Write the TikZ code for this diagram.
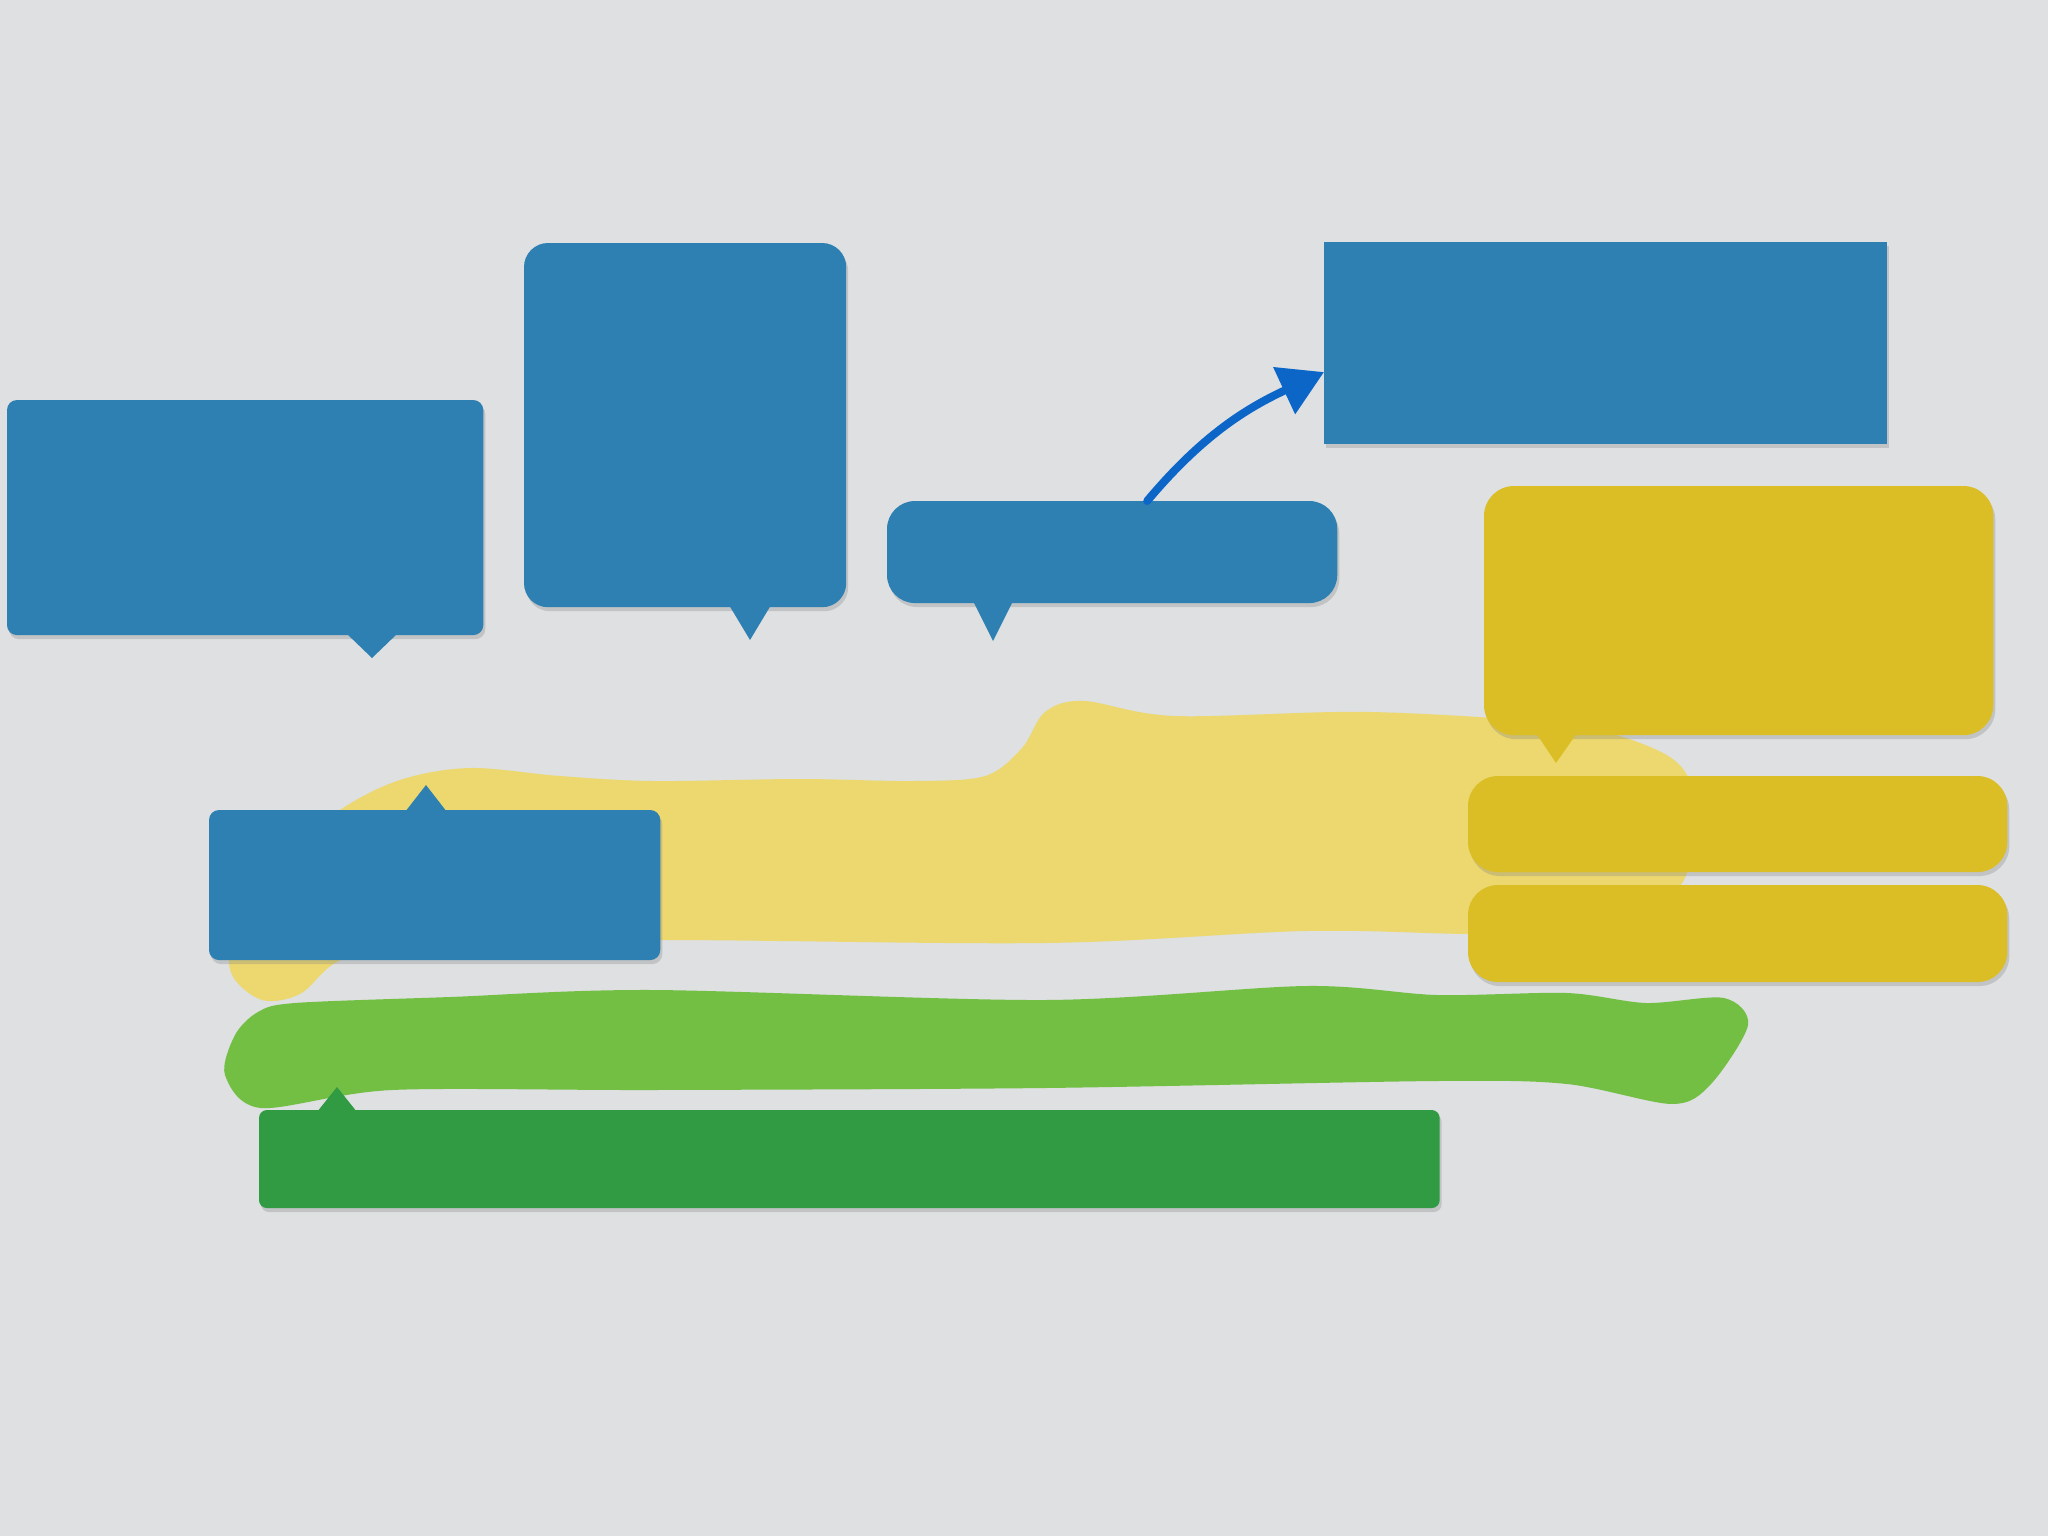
\documentclass[tikz,border=0pt]{standalone}
\usepackage{xcolor}
\usepackage{tikz}
\usetikzlibrary{arrows.meta, shadows}

\definecolor{paper}{RGB}{222,224,226}
\definecolor{feltblue}{RGB}{46,128,178}
\definecolor{crayonblue}{RGB}{12,102,200}
\definecolor{gold}{RGB}{219,190,38}
\definecolor{paleyellow}{RGB}{236,216,110}
\definecolor{leafgreen}{RGB}{114,191,68}
\definecolor{darkgreen}{RGB}{48,155,67}

\begin{document}
\begin{tikzpicture}[x=0.01cm, y=-0.01cm,
    card/.style={inner sep=0pt, outer sep=0pt, anchor=north west,
        drop shadow={opacity=0.3, shadow xshift=0.02cm, shadow yshift=-0.04cm}},
    bluecard/.style={card, fill=feltblue},
    goldcard/.style={card, fill=gold},
    greencard/.style={card, fill=darkgreen},
    crayon/.style={draw=crayonblue, line width=0.08cm, line cap=round,
        -{Triangle[length=0.44cm, width=0.5cm]}}]
    % background
    \fill[paper] (0,0) rectangle (2048,1536);
    % blobs
    \fill[paleyellow] plot[smooth cycle, tension=0.55] coordinates {
        (400,780) (470,768) (560,776) (653,781) (800,779) (914,781) (985,776)
        (1022,748) (1045,712) (1084,701) (1175,716) (1371,712) (1567,725)
        (1659,751) (1691,784) (1690,840) (1678,888) (1600,930) (1476,934)
        (1306,931) (1045,943) (653,940) (400,945) (337,962) (300,994)
        (262,1000) (232,975) (235,940) (280,860) (340,810)};
    \fill[leafgreen] plot[smooth cycle, tension=0.5] coordinates {
        (295,1003) (450,997) (653,990) (1045,1000) (1306,986) (1437,995)
        (1567,993) (1646,1003) (1724,998) (1748,1025) (1711,1084) (1672,1104)
        (1567,1084) (1437,1081) (1045,1088) (653,1090) (392,1090)
        (261,1108) (225,1075) (235,1035) (258,1012)};
    % blue cards
    \node[bluecard, minimum width=4.76cm, minimum height=2.35cm, rounded corners=0.1cm] (A) at (7,400) {};
    \node[bluecard, minimum width=3.22cm, minimum height=3.64cm, rounded corners=0.24cm] (B) at (524,243) {};
    \node[bluecard, minimum width=4.50cm, minimum height=1.02cm, rounded corners=0.28cm] (C) at (887,501) {};
    \node[bluecard, minimum width=5.63cm, minimum height=2.02cm] (D) at (1324,242) {};
    \node[bluecard, minimum width=4.51cm, minimum height=1.50cm, rounded corners=0.1cm] (H) at (209,810) {};
    \fill[feltblue] (346,633) -- (372,658) -- (398,633) -- cycle;
    \fill[feltblue] (729,605) -- (750,640) -- (771,605) -- cycle;
    \fill[feltblue] (973,601) -- (993,641) -- (1013,601) -- cycle;
    \fill[feltblue] (405,812) -- (426,785) -- (447,812) -- cycle;
    % gold cards
    \node[goldcard, minimum width=5.09cm, minimum height=2.49cm, rounded corners=0.3cm] (E) at (1484,486) {};
    \node[goldcard, minimum width=5.39cm, minimum height=0.96cm, rounded corners=0.3cm] (F) at (1468,776) {};
    \node[goldcard, minimum width=5.39cm, minimum height=0.97cm, rounded corners=0.3cm] (G) at (1468,885) {};
    \fill[gold] (1536,733) -- (1556,763) -- (1577,733) -- cycle;
    % green card
    \node[greencard, minimum width=11.80cm, minimum height=0.98cm, rounded corners=0.08cm] (I) at (259,1110) {};
    \fill[darkgreen] (317,1112) -- (337,1087) -- (357,1112) -- cycle;
    % arrow
    \draw[crayon] ([xshift=0.35cm]C.north) to[out=50, in=205] ([yshift=-0.29cm]D.west);
\end{tikzpicture}
\end{document}
